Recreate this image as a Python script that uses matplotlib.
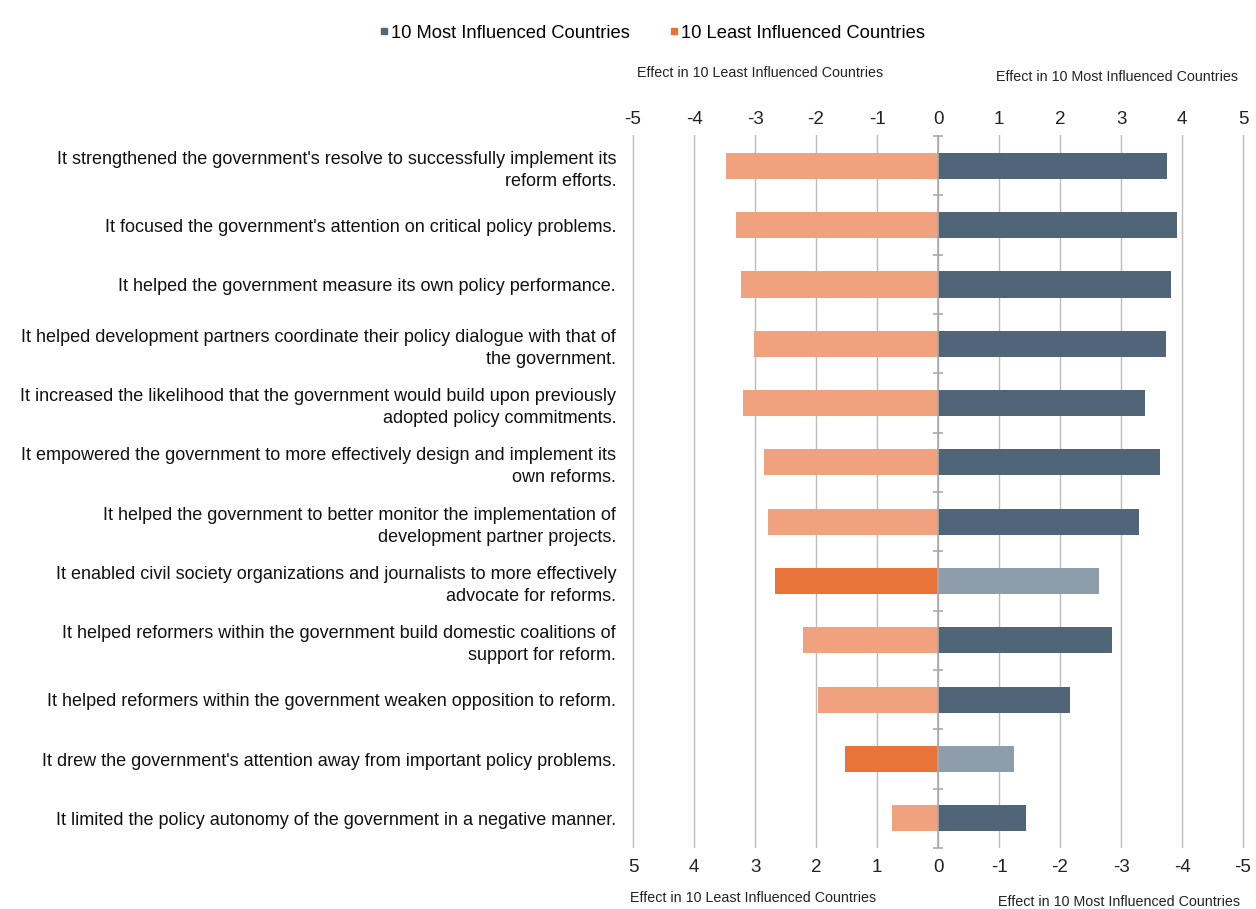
import matplotlib
matplotlib.use("Agg")
import matplotlib.pyplot as plt
import numpy as np
from matplotlib.lines import Line2D

plt.rcParams['font.family'] = ['Liberation Sans', 'DejaVu Sans']

categories = [
    "It strengthened the government's resolve to successfully implement its\nreform efforts.",
    "It focused the government's attention on critical policy problems.",
    "It helped the government measure its own policy performance.",
    "It helped development partners coordinate their policy dialogue with that of\nthe government.",
    "It increased the likelihood that the government would build upon previously\nadopted policy commitments.",
    "It empowered the government to more effectively design and implement its\nown reforms.",
    "It helped the government to better monitor the implementation of\ndevelopment partner projects.",
    "It enabled civil society organizations and journalists to more effectively\nadvocate for reforms.",
    "It helped reformers within the government build domestic coalitions of\nsupport for reform.",
    "It helped reformers within the government weaken opposition to reform.",
    "It drew the government's attention away from important policy problems.",
    "It limited the policy autonomy of the government in a negative manner.",
]
most_influenced = [3.76, 3.92, 3.82, 3.74, 3.40, 3.64, 3.29, 2.64, 2.86, 2.16, 1.25, 1.44]
least_influenced = [3.47, 3.31, 3.23, 3.01, 3.20, 2.85, 2.78, 2.68, 2.21, 1.97, 1.53, 0.76]
highlighted = [False, False, False, False, False, False, False, True, False, False, True, False]

top_ticks = [-5, -4, -3, -2, -1, 0, 1, 2, 3, 4, 5]
bottom_labels = ["5", "4", "3", "2", "1", "0", "-1", "-2", "-3", "-4", "-5"]

c_most = "#506578"
c_most_hi = "#8D9DAA"
c_least = "#F0A27F"
c_least_hi = "#E9743A"

fig = plt.figure(figsize=(12.56, 9.09), dpi=100)
ax = fig.add_axes([0.5016, 0.0671, 0.4905, 0.7844])

y = np.arange(len(categories))
most_colors = [c_most_hi if h else c_most for h in highlighted]
least_colors = [c_least_hi if h else c_least for h in highlighted]
ax.barh(y, most_influenced, height=0.44, color=most_colors, zorder=3)
ax.barh(y, -np.array(least_influenced), height=0.44, color=least_colors, zorder=3)

ax.set_xlim(-5.05, 5.05)
ax.set_ylim(len(categories) - 1 + 0.5, -0.52)

for t in top_ticks:
    ax.axvline(t, color="#BBBBBB", lw=1.0, zorder=1)
ax.axvline(0, color="#AAAAAA", lw=1.2, zorder=4)
bounds = np.arange(-0.5, len(categories), 1.0)
ax.plot(np.zeros_like(bounds), bounds, linestyle="none", marker="_", markersize=7,
        color="#AAAAAA", mew=1.2, zorder=4, clip_on=False)

for s in ax.spines.values():
    s.set_visible(False)

ax.set_yticks(y)
ax.set_yticklabels(categories, fontsize=13, color="#111111", ha="right", linespacing=1.38)
ax.tick_params(axis="y", length=0, pad=10)

ax.set_xticks(top_ticks)
ax.set_xticklabels(bottom_labels, fontsize=13.5, color="#222222")
ax.tick_params(axis="x", length=0, pad=8)

ax2 = ax.twiny()
ax2.set_xlim(ax.get_xlim())
ax2.set_xticks(top_ticks)
ax2.set_xticklabels([str(t) for t in top_ticks], fontsize=13.5, color="#222222")
ax2.tick_params(axis="x", length=0, pad=5)
for s in ax2.spines.values():
    s.set_visible(False)

# axis captions
fig.text(760 / 1256, 1 - 73 / 909, "Effect in 10 Least Influenced Countries", fontsize=10.3,
         ha="center", va="center", color="#222222")
fig.text(1117 / 1256, 1 - 77 / 909, "Effect in 10 Most Influenced Countries", fontsize=10.3,
         ha="center", va="center", color="#222222")
fig.text(753 / 1256, 1 - 898 / 909, "Effect in 10 Least Influenced Countries", fontsize=10.3,
         ha="center", va="center", color="#222222")
fig.text(1119 / 1256, 1 - 902 / 909, "Effect in 10 Most Influenced Countries", fontsize=10.3,
         ha="center", va="center", color="#222222")

handles = [Line2D([], [], linestyle="none", marker="s", markersize=5, color=c_most),
           Line2D([], [], linestyle="none", marker="s", markersize=5, color=c_least_hi)]
fig.legend(handles, ["10 Most Influenced Countries", "10 Least Influenced Countries"],
           loc="center", bbox_to_anchor=(651 / 1256, 1 - 33 / 909), ncol=2, frameon=False,
           fontsize=13.2, handletextpad=0.0, columnspacing=2.0, handlelength=0.8,
           borderaxespad=0)

fig.savefig("out.png", dpi=100, facecolor="white")
